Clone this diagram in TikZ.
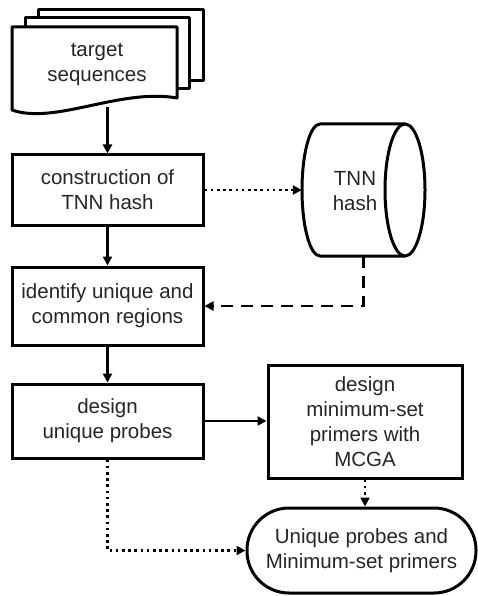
\documentclass[tikz,border=0pt]{standalone}
\usepackage{fontspec}
\setmainfont{Liberation Sans}
\usetikzlibrary{arrows.meta}
\begin{document}
\begin{tikzpicture}[x=1pt,y=-1pt,
  every node/.style={font=\fontsize{20.5}{25}\selectfont, align=center, text=black!85},
  box/.style={draw=black, line width=3pt, fill=white, inner sep=0pt},
  conn/.style={line width=2.6pt, -{Triangle[length=9pt,width=9pt]}},
  dotline/.style={conn, dash pattern=on 2.6pt off 3.6pt},
  dashline/.style={conn, dash pattern=on 12pt off 8pt},
  shapeline/.style={line width=3pt, line join=round}
]
\useasboundingbox (0,0) rectangle (478,596);
% document stack
\draw[shapeline, fill=white] (38,10) rectangle (203,81);
\draw[shapeline, fill=white] (25,18) rectangle (189,89);
\draw[shapeline, fill=white] (12,27) -- (177,27) -- (177,98)
  .. controls (120,88) and (55,125) .. (12,110) -- cycle;
\node (tseq) at (97,64.5) {target\\sequences};
\coordinate (tseqb) at (107.5,107);
% boxes
\node[box, minimum width=191, minimum height=70] (box1) at (107.5,190) {construction of\\TNN hash};
\node[box, minimum width=191, minimum height=78] (box2) at (107.5,306) {identify unique and\\common regions};
\node[box, minimum width=191, minimum height=74] (box3) at (107.5,421) {design\\unique probes};
\node[box, minimum width=194, minimum height=113] (box4) at (365,421.5) {design\\minimum-set\\primers with\\MCGA};
\node[box, rounded corners=42pt, minimum width=229, minimum height=85] (term) at (361.5,550.5) {Unique probes and\\Minimum-set primers};
% cylinder
\node[inner sep=0pt, minimum width=123, minimum height=132] (cyl) at (363.5,190) {};
\draw[shapeline, fill=white] (320,124) -- (405,124) -- (405,256) -- (320,256)
  arc[start angle=90, end angle=270, x radius=18, y radius=66] -- cycle;
\draw[shapeline, fill=white] (405,190) ellipse [x radius=20, y radius=66];
\node (cyltext) at (355,191) {TNN\\hash};
% connectors
\draw[conn] (tseqb) -- (box1.north);
\draw[conn] (box1.south) -- (box2.north);
\draw[conn] (box2.south) -- (box3.north);
\draw[conn] (box3.east) -- (box4.west |- box3.east);
\draw[dotline] (box1.east) -- (cyl.west);
\draw[dashline] (cyl.south) |- (box2.east);
\draw[dotline] (box4.south) -- (box4.south |- term.north);
\draw[dotline] (box3.south) |- (term.west);
\end{tikzpicture}
\end{document}
